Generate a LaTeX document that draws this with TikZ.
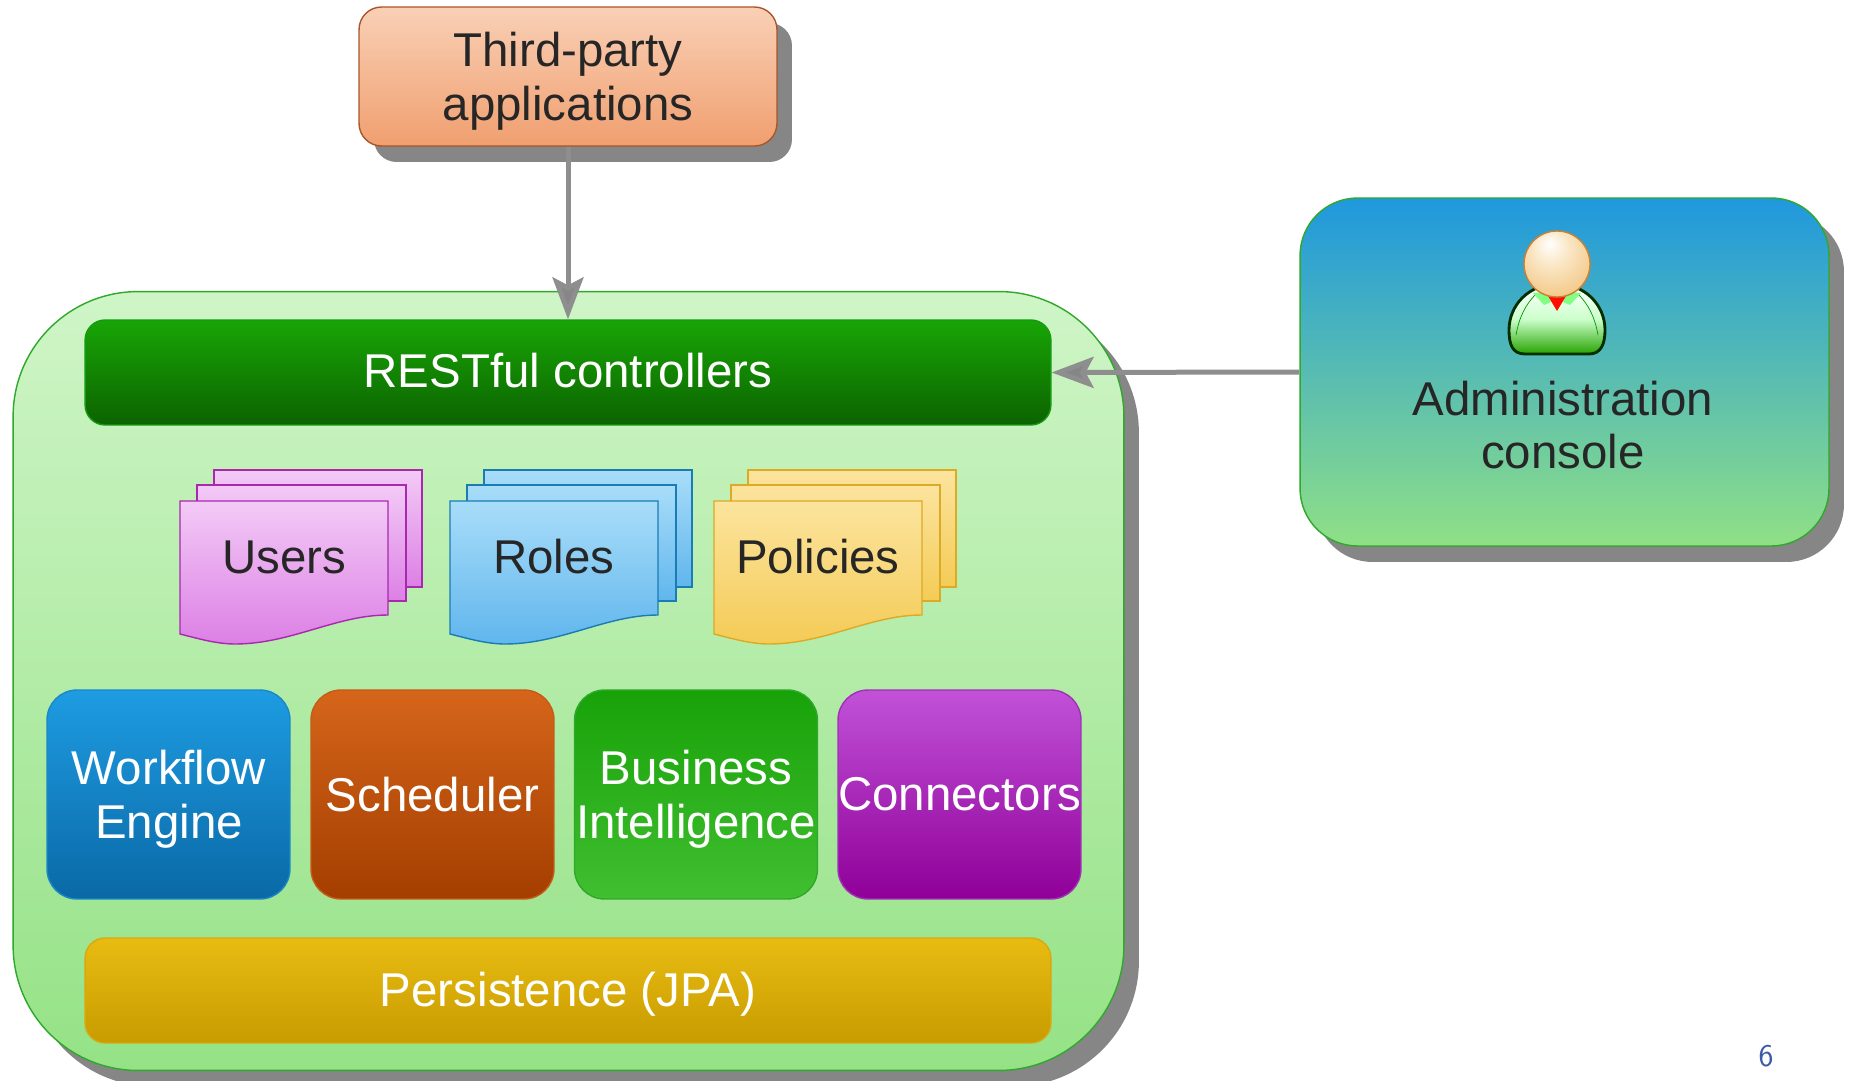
\documentclass[tikz,border=0pt]{standalone}
\usepackage{fontspec}
\setmainfont{Liberation Sans}
\usetikzlibrary{arrows.meta,shadows}

\definecolor{sombra}{HTML}{868686}
\definecolor{gris}{HTML}{8E8E8E}
\definecolor{letra}{HTML}{262626}
\definecolor{piel}{HTML}{F3C785}
\definecolor{pielclara}{HTML}{FAE6C4}
\pgfdeclareradialshading{cabeza}{\pgfpoint{-6bp}{16bp}}{color(0bp)=(white);color(14bp)=(pielclara);color(34bp)=(piel);color(60bp)=(piel)}

\tikzset{
    caja/.style n args={3}{/utils/exec={\definecolor{ca}{HTML}{#1}\definecolor{cb}{HTML}{#2}\definecolor{cc}{HTML}{#3}},
        draw=cc,line width=0.8pt,top color=ca,bottom color=cb,align=center,inner sep=0pt,
        font=\fontsize{27}{30.6}\selectfont},
    etiqueta/.style={font=\fontsize{27}{30.6}\selectfont,align=center,text=letra},
    sombreada/.style={drop shadow={shadow xshift=0.3cm,shadow yshift=-0.32cm,opacity=1,fill=sombra}},
    bloque/.style={rounded corners=0.6cm,minimum width=4.86cm,minimum height=4.18cm,text=white},
    barra/.style={rounded corners=0.4cm,minimum width=19.32cm,minimum height=2.1cm,text=white},
    flecha/.style={draw=gris,line width=0.1cm,-{Stealth[length=0.84cm,width=0.62cm,inset=0.16cm,fill=sombra]}}
}

\begin{document}
\begin{tikzpicture}[x=0.02cm,y=-0.02cm]
        \useasboundingbox (0,0) rectangle (1849,1081);

        %Contenedor
        \node[caja={CFF5C7}{95E286}{2FA82B},sombreada,rounded corners=2.5cm,minimum width=22.22cm,minimum height=15.58cm]
            (core) at (568.5,681) {};

        %Cajas de arriba
        \node[caja={F9D0B6}{F09F6F}{A9562A},sombreada,rounded corners=0.45cm,minimum width=8.36cm,minimum height=2.78cm]
            (third) at (568,76.5) {};
        \node[etiqueta] (thirdlabel) at (568,81) {Third-party\\applications};
        \node[caja={1F98DE}{90E086}{2FA82B},sombreada,rounded corners=1.15cm,minimum width=10.58cm,minimum height=6.96cm]
            (admin) at (1564.5,372) {};
        \node[etiqueta] (adminlabel) at (1563,425) {Administration\\console};

        %Barras
        \node[caja={18A506}{0C6300}{159A10},barra] (rest) at (568,372.5) {};
        \node[etiqueta,text=white] (restlabel) at (568,371) {RESTful controllers};
        \node[caja={E8BC12}{C89B00}{D8A810},barra] (jpa) at (568,990.5) {};
        \node[etiqueta,text=white] (jpalabel) at (568,994) {Persistence (JPA)};

        %Bloques
        \node[caja={1E9CE2}{0A69A6}{1A88C8},bloque] (workflow) at (168.5,794.5) {};
        \node[etiqueta,text=white] (workflowlabel) at (169,799) {Workflow\\Engine};
        \node[caja={D5651A}{A43E00}{C85A18},bloque] (scheduler) at (432.5,794.5) {Scheduler};
        \node[caja={18A208}{41BF31}{2FA82B},bloque] (business) at (696,794.5) {};
        \node[etiqueta,text=white] (businesslabel) at (696,799) {Business\\Intelligence};
        \node[caja={C152D8}{8F0098}{A030B8},bloque] (connectors) at (959.5,794.5) {Connectors};

        %Documentos
        \foreach \dx/\colA/\colB/\borde/\nombre/\txt in {
            1/F3CAF6/DC80E5/A828B0/users/Users,
            271/A9DDF9/60B6ED/1A7CB4/roles/Roles,
            535/FCE49E/F4CB56/DCAA24/policies/Policies}
        {
            \begin{scope}[xshift=\dx*0.02 cm,yshift=-0.02cm]
                \definecolor{ca}{HTML}{\colA}
                \definecolor{cb}{HTML}{\colB}
                \definecolor{cc}{HTML}{\borde}
                \draw[cc,line width=0.8pt,top color=ca,bottom color=cb] (213,469) rectangle (421,586);
                \draw[cc,line width=0.8pt,top color=ca,bottom color=cb] (196,484) rectangle (405,600);
                \draw[cc,line width=0.8pt,top color=ca,bottom color=cb] (179,500) -- (387,500) -- (387,614)
                    .. controls (335,614) and (290,643) .. (234,643)
                    .. controls (215,643) and (195,637) .. (179,633) -- cycle;
                \node[etiqueta] (\nombre) at (283,556) {\txt};
            \end{scope}
        }

        %Persona
        \draw[draw=black!70!green!60!black,line width=1.6pt,top color=white,bottom color=green!55!black!80!lime,middle color=green!20!white]
            (1525,354) .. controls (1512,354) and (1509,344) .. (1509,330)
            .. controls (1509,305) and (1529,284) .. (1557,284)
            .. controls (1585,284) and (1605,305) .. (1605,330)
            .. controls (1605,344) and (1601,354) .. (1589,354) -- cycle;
        \draw[green!60!black,line width=0.4pt] (1516,335) .. controls (1519,318) and (1525,305) .. (1536,294);
        \draw[green!60!black,line width=0.4pt] (1598,335) .. controls (1595,318) and (1589,305) .. (1578,294);
        \fill[green!50!white] (1533,293) -- (1547,292) -- (1551,302) -- (1544,305) -- cycle;
        \fill[green!50!white] (1581,293) -- (1567,292) -- (1563,302) -- (1570,305) -- cycle;
        \fill[red!90!orange] (1548,296) -- (1566,296) -- (1557,311) -- cycle;
        \draw[draw=brown!80!orange,line width=0.8pt,shading=cabeza]
            (1557,264) circle[radius=33];

        %Conectores
        \draw[flecha] (third.south) -- (rest.north);
        \draw[flecha] (admin.west) -- (rest.east);

        %Numero
        \node[font=\sffamily\fontsize{18}{20}\selectfont,text={rgb,255:red,60;green,90;blue,170}] (pagina) at (1766,1056) {6};
    \end{tikzpicture}
\end{document}
